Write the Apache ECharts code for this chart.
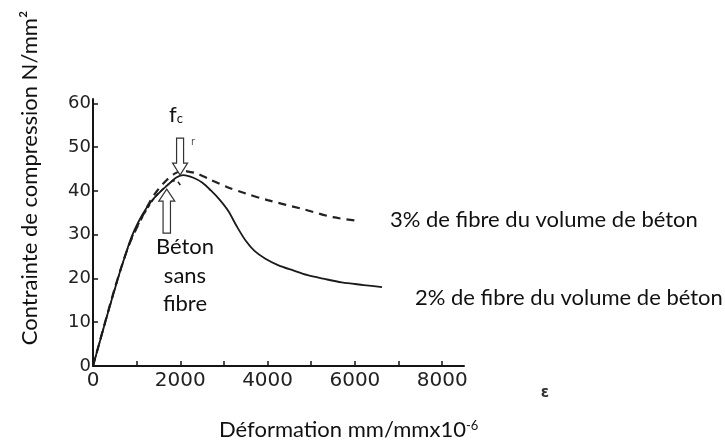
<!DOCTYPE html>
<html>
<head>
<meta charset="utf-8">
<script src="https://cdn.jsdelivr.net/npm/echarts@6/dist/echarts.min.js"></script>
<style>
html,body{margin:0;padding:0;background:#fff;}
#chart{width:725px;height:441px;}
</style>
</head>
<body>
<div id="chart"></div>
<script>
// ---- data (strain in mm/mm x10^-6, stress in N/mm²) ----
const fibre2X = [0, 275, 580, 750, 888, 1040, 1193, 1350, 1498, 1727, 1920, 2071, 2300, 2500, 2700, 2900, 3100, 3300, 3500, 3700, 3950, 4250, 4600, 4900, 5300, 5700, 6200, 6622];
const fibre2Y = [0, 9.8, 20.3, 25.6, 29.6, 32.9, 35.6, 37.8, 39.4, 41.5, 43.1, 43.6, 43.0, 41.9, 40.1, 38.0, 35.4, 31.8, 28.6, 26.3, 24.5, 23.0, 21.8, 20.8, 19.9, 19.1, 18.5, 18.0];

const fibre3X = [0, 500, 800, 1000, 1307, 1498, 1690, 1881, 2064, 2186, 2378, 2683, 3067, 3500, 4000, 4750, 5500, 6050];
const fibre3Y = [0, 17.8, 27.0, 31.5, 37.6, 40.4, 42.5, 44.0, 44.6, 44.4, 44.0, 42.6, 40.9, 39.4, 37.9, 36.0, 34.0, 33.2];

const plainX = [0, 500, 800, 1000, 1400, 1700, 1850, 1950, 2000];
const plainY = [0, 17.6, 27.0, 31.6, 38.3, 41.3, 42.3, 42.0, 41.3];

const xTicks = [0, 1000, 2000, 3000, 4000, 5000, 6000, 7000, 8000];
const xLabels = [0, 2000, 4000, 6000, 8000];
const yTicks = [0, 10, 20, 30, 40, 50, 60];

const yTitle = 'Contrainte de compression N/mm²';
const xTitle = 'Déformation mm/mmx10';
const xTitleSup = '-6';
const label3 = '3% de fibre du volume de béton';
const label2 = '2% de fibre du volume de béton';
const plainLabel = ['Béton', 'sans', 'fibre'];

const zip = (xs, ys) => xs.map((x, i) => [x, ys[i]]);

const chart = echarts.init(document.getElementById('chart'), null, {renderer: 'canvas'});
const ink = '#151515';
const txtFont = 'Lato';

chart.setOption({
  animation: false,
  backgroundColor: '#ffffff',
  grid: {left: 93, right: 261, top: 99, bottom: 75, containLabel: false},
  xAxis: {
    type: 'value', min: 0, max: 8500,
    axisLine: {lineStyle: {color: ink, width: 2}},
    axisTick: {show: true, inside: true, length: 5, lineStyle: {color: ink, width: 1.5}, customValues: xTicks},
    axisLabel: {customValues: xLabels, formatter: v => String(v), color: '#222', fontFamily: 'DejaVu Sans', fontSize: 20, margin: 5},
    splitLine: {show: false}
  },
  yAxis: {
    type: 'value', min: 0, max: 61,
    axisLine: {show: true, lineStyle: {color: ink, width: 2}},
    axisTick: {show: true, inside: true, length: 5, lineStyle: {color: ink, width: 1.5}, customValues: yTicks},
    axisLabel: {customValues: yTicks, formatter: v => String(v), color: '#222', fontFamily: 'DejaVu Sans', fontSize: 18, margin: 2},
    splitLine: {show: false}
  },
  series: [
    {
      name: 'plain', type: 'line', data: zip(plainX, plainY), smooth: 0.3, symbol: 'none',
      lineStyle: {color: '#222', width: 1.6, type: [4, 3]}, z: 2
    },
    {
      name: '3%', type: 'line', data: zip(fibre3X, fibre3Y), smooth: 0.3, symbol: 'none',
      lineStyle: {color: '#222', width: 2.2, type: [8, 6]}, z: 3
    },
    {
      name: '2%', type: 'line', data: zip(fibre2X, fibre2Y), smooth: 0.3, symbol: 'none',
      lineStyle: {color: '#1a1a1a', width: 1.8}, z: 4
    }
  ]
});

function arrow(tip, dir, shaftHalf, headHalf, headLen, totalLen) {
  const [tx, ty] = tip;
  const s = dir; // -1: pointing down (body above), +1: pointing up (body below)
  const pts = [
    [tx - shaftHalf, ty + s * totalLen],
    [tx + shaftHalf, ty + s * totalLen],
    [tx + shaftHalf, ty + s * headLen],
    [tx + headHalf, ty + s * headLen],
    [tx, ty],
    [tx - headHalf, ty + s * headLen],
    [tx - shaftHalf, ty + s * headLen]
  ];
  return {type: 'polygon', shape: {points: pts}, style: {fill: '#fff', stroke: '#333', lineWidth: 1.2}, z: 50};
}

const downTip = chart.convertToPixel({gridIndex: 0}, [1995, 43.6]);
const upTip = chart.convertToPixel({gridIndex: 0}, [1690, 40.4]);

const textStyle = (extra) => Object.assign({fill: '#111', fontFamily: txtFont, fontSize: 22}, extra);

chart.setOption({
  graphic: [
    arrow(downTip, -1, 3.5, 7.5, 12, 37),
    arrow(upTip, 1, 3.7, 8, 12, 44),
    {type: 'text', x: 30, y: 178, rotation: Math.PI / 2, z: 60,
      style: textStyle({text: yTitle, align: 'center', verticalAlign: 'middle'})},
    {type: 'text', x: 219, y: 430, z: 60,
      style: textStyle({text: xTitle + '{s|' + xTitleSup + '}', align: 'left', verticalAlign: 'middle',
        rich: {s: {fontFamily: txtFont, fontSize: 13, fill: '#111', verticalAlign: 'top', padding: [0, 0, 9, 0]}}})},
    {type: 'text', x: 390, y: 220, z: 60,
      style: textStyle({text: label3, align: 'left', verticalAlign: 'middle'})},
    {type: 'text', x: 415, y: 298, z: 60,
      style: textStyle({text: label2, align: 'left', verticalAlign: 'middle'})},
    {type: 'text', x: 185, y: 247, z: 60,
      style: textStyle({text: plainLabel[0], align: 'center', verticalAlign: 'middle'})},
    {type: 'text', x: 185, y: 276, z: 60,
      style: textStyle({text: plainLabel[1], align: 'center', verticalAlign: 'middle'})},
    {type: 'text', x: 185, y: 304, z: 60,
      style: textStyle({text: plainLabel[2], align: 'center', verticalAlign: 'middle'})},
    {type: 'text', x: 176, y: 115, z: 60,
      style: textStyle({text: 'f{c|c}', align: 'center', verticalAlign: 'middle',
        rich: {c: {fontFamily: txtFont, fontSize: 13, fill: '#111', padding: [7, 0, 0, 0]}}})},
    {type: 'text', x: 193, y: 142, z: 60,
      style: {text: 'r', fill: '#555', fontFamily: 'DejaVu Sans', fontSize: 10, align: 'center', verticalAlign: 'middle'}},
    {type: 'text', x: 545, y: 393, z: 60,
      style: {text: 'ε', fill: '#333', fontFamily: 'DejaVu Sans', fontSize: 15, fontWeight: 'bold', align: 'center', verticalAlign: 'middle'}}
  ]
});
</script>
</body>
</html>
